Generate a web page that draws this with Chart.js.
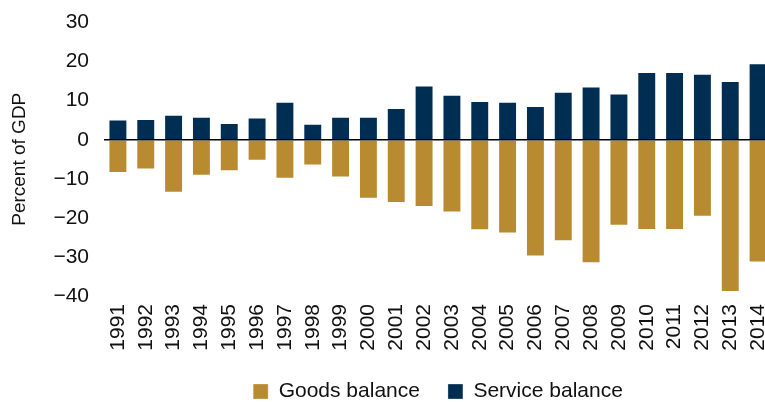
<!DOCTYPE html>
<html>
<head>
<meta charset="utf-8">
<script src="https://cdn.jsdelivr.net/npm/chart.js@4"></script>
<style>
  html, body { margin: 0; padding: 0; background: #ffffff; overflow: hidden; }
  #wrap { width: 765px; height: 402px; position: relative; overflow: hidden; }
</style>
</head>
<body>
<div id="wrap"><canvas id="c" width="772" height="402"></canvas></div>
<script>
const years = ['1991','1992','1993','1994','1995','1996','1997','1998','1999','2000','2001','2002','2003','2004','2005','2006','2007','2008','2009','2010','2011','2012','2013','2014'];
const goodsBalance = [-8.5,-7.6,-13.6,-9.2,-8.1,-5.4,-10.0,-6.6,-9.7,-15.1,-16.2,-17.2,-18.6,-23.2,-24.0,-29.9,-26.0,-31.6,-22.0,-23.1,-23.1,-19.7,-39.0,-31.4];
const serviceBalance = [5.2,5.3,6.4,5.9,4.3,5.7,9.7,4.1,5.9,5.9,8.1,13.9,11.5,9.9,9.7,8.6,12.3,13.6,11.8,17.3,17.3,16.9,15.0,19.6];
const yTicksMin = -40, yTicksMax = 30, yStep = 10;
const yTitle = 'Percent of GDP';
const seriesNames = ['Goods balance', 'Service balance'];

const GOLD = '#b88b30';
const NAVY = '#002e53';
const FONT = '"Liberation Sans", Arial, Helvetica, sans-serif';

new Chart(document.getElementById('c'), {
  type: 'bar',
  data: {
    labels: years,
    datasets: [
      { label: seriesNames[0], data: goodsBalance, backgroundColor: GOLD,
        borderColor: 'rgba(255,255,255,0.3)', borderWidth: 1 },
      { label: seriesNames[1], data: serviceBalance, backgroundColor: NAVY,
        borderColor: 'rgba(255,255,255,0.3)', borderWidth: 1 }
    ]
  },
  options: {
    responsive: false,
    animation: false,
    devicePixelRatio: 1,
    layout: { padding: { top: 22.5, right: 0, left: 0, bottom: -10 } },
    datasets: { bar: { categoryPercentage: 1.0, barPercentage: 0.68 } },
    plugins: {
      tooltip: { enabled: false },
      legend: {
        position: 'bottom',
        fullSize: false,
        labels: {
          color: '#111',
          font: { family: FONT, size: 21 },
          boxWidth: 15,
          boxHeight: 15,
          padding: 28
        }
      }
    },
    scales: {
      x: {
        stacked: true,
        grid: { display: false, drawTicks: false },
        border: { display: false },
        ticks: {
          color: '#111',
          font: { family: FONT, size: 21 },
          minRotation: 90,
          maxRotation: 90,
          autoSkip: false,
          padding: 8
        },
        afterFit: (s) => { s.height = 57; s.paddingLeft = 0; s.paddingRight = 0; }
      },
      y: {
        stacked: true,
        min: yTicksMin,
        max: yTicksMax,
        grid: {
          drawTicks: false,
          z: 1,
          lineWidth: 1.6,
          color: (ctx) => (ctx.tick && ctx.tick.value === 0) ? '#000' : 'rgba(0,0,0,0)'
        },
        border: { display: false },
        ticks: {
          stepSize: yStep,
          color: '#111',
          padding: 15,
          font: { family: FONT, size: 21 },
          callback: (v) => String(v).replace('-', '\u2212')
        },
        title: {
          display: true,
          text: yTitle,
          color: '#111',
          font: { family: FONT, size: 19 },
          padding: { top: 8, bottom: 0 }
        },
        afterFit: (s) => { s.width = 104; s.paddingTop = 0; s.paddingBottom = 0; }
      }
    }
  }
});
</script>
</body>
</html>
